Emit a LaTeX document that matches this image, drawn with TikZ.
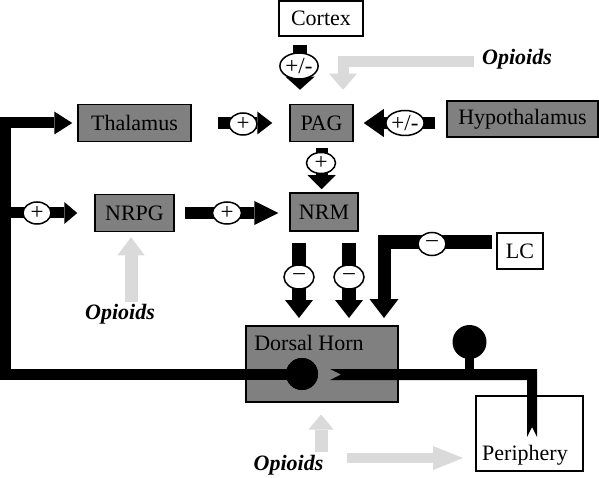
\documentclass[tikz,border=0pt]{standalone}
\usepackage{fontspec}
\setmainfont{Liberation Serif}
\usetikzlibrary{arrows.meta,shapes.geometric}
\definecolor{boxgray}{RGB}{128,128,128}
\definecolor{lightg}{RGB}{218,218,218}
\begin{document}
\begin{tikzpicture}[x=1pt,y=-1pt,
  box/.style={draw=black,line width=1.5pt,fill=boxgray,inner sep=0pt,font=\fontsize{22}{24}\selectfont},
  wbox/.style={box,fill=white},
  lbl/.style={inner sep=0pt,font=\fontsize{22}{24}\selectfont},
  opi/.style={inner sep=0pt,font=\fontsize{22}{24}\selectfont\bfseries\itshape},
  sign/.style={ellipse,draw=black,line width=1.5pt,fill=white,inner sep=0pt,minimum width=28pt,minimum height=22pt,font=\fontsize{23}{24}\selectfont},
  blk/.style={line width=12pt,draw=black,line join=miter,line cap=butt},
  blkarrow/.style 2 args={blk,-{Triangle[length=#1,width=#2,line width=0pt]}},
  gry/.style={line width=12pt,draw=lightg,line join=miter,line cap=butt},
  gryarrow/.style 2 args={gry,-{Triangle[length=#1,width=#2,line width=0pt]}},
]
\fill[white] (0,0) rectangle (599,478);
\useasboundingbox (0,0) rectangle (599,478);

% boxes
\node[wbox,minimum width=84pt,minimum height=35pt] (cortex) at (321,18.5) {Cortex};
\node[box,minimum width=63pt,minimum height=37pt] (pag) at (321.5,123) {PAG};
\node[box,minimum width=113pt,minimum height=37pt] (thalamus) at (134.5,123) {Thalamus};
\node[box,minimum width=151pt,minimum height=36pt] (hypothalamus) at (522.5,119) {Hypothalamus};
\node[box,minimum width=79pt,minimum height=37pt] (nrpg) at (134.5,213) {NRPG};
\node[box,minimum width=68pt,minimum height=38pt] (nrm) at (324,212) {NRM};
\node[wbox,minimum width=46pt,minimum height=36pt] (lc) at (520,251) {LC};
\node[box,minimum width=152pt,minimum height=76pt,anchor=north west] (dh) at (245,325) {};
\node[lbl,anchor=base] (dhtext) at (309,350) {Dorsal Horn};
\node[wbox,minimum width=107pt,minimum height=75pt,anchor=north west] (periphery) at (475,395) {};
\node[lbl,anchor=base] (pertext) at (525,460) {Periphery};

% opioid labels
\node[opi] (op1) at (517,59) {Opioids};
\node[opi] (op2) at (120,314) {Opioids};
\node[opi] (op3) at (288.5,465.5) {Opioids};

% coordinates
\coordinate (cxa) at (300,0);
\coordinate (corner) at (5.5,374);
\coordinate (br) at (5.5,213);
\coordinate (m1) at (299,0);
\coordinate (m2) at (349,0);
\coordinate (lcc) at (384,242);
\coordinate (g1) at (474,62);
\coordinate (g1c) at (343,62);
\coordinate (g2) at (131,302);
\coordinate (g3) at (321,452);
\coordinate (g4) at (347,458);

% black connectors
\draw[blkarrow={13pt}{29pt},line width=14pt,shorten <=8pt,shorten >=14pt] (cortex.south -| cxa) -- (pag.north -| cxa);
\draw[blkarrow={15pt}{23pt},shorten <=26pt,shorten >=17pt] (thalamus.east) -- (pag.west);
\draw[blkarrow={20pt}{28pt},shorten <=11pt,shorten >=10pt] (hypothalamus.west |- pag.east) -- (pag.east);
\draw[blkarrow={14pt}{28pt},shorten <=6pt,shorten >=3pt] (pag.south) -- (pag.south |- nrm.north);
\draw[blkarrow={24pt}{24pt},shorten <=10pt,shorten >=11pt] (nrpg.east) -- (nrpg.east -| nrm.west);
\draw[blkarrow={18pt}{28pt},line width=14pt,shorten <=11pt,shorten >=7pt] (m1 |- nrm.south) -- (m1 |- dh.north);
\draw[blkarrow={18pt}{28pt},line width=14pt,shorten <=11pt,shorten >=7pt] (m2 |- nrm.south) -- (m2 |- dh.north);
\draw[blkarrow={19pt}{29pt},line width=13pt,shorten <=4pt,shorten >=7pt] (lc.west |- lcc) -- (lcc) -- (lcc |- dh.north);

% neuron
\node[circle,fill=black,inner sep=0pt,minimum size=32pt] (soma) at (302,374) {};
\draw[blkarrow={18pt}{23pt},line width=11pt,shorten >=5pt] (soma.center) -- (corner) |- (thalamus.west);
\draw[blkarrow={13pt}{22pt},line width=11pt,shorten >=17pt] (br) -- (br -| nrpg.west);
\node[circle,fill=black,inner sep=0pt,minimum size=32pt] at (soma) {};
\fill[black] (330,369) -- (537,369) -- (537,437) -- (532,427) -- (527,437) -- (527,380) -- (330,380) -- (341,374.5) -- cycle;
\fill[black] (465,371) rectangle (474,345);
\node[circle,fill=black,inner sep=0pt,minimum size=34pt] (bouton) at (469.5,342) {};

% gray connectors
\draw[gryarrow={16pt}{28pt},line width=11pt,shorten >=14pt] (g1) -| (pag.north -| g1c);
\draw[gryarrow={18pt}{27pt},line width=13pt,shorten >=5pt] (g2) -- (g2 |- nrpg.south);
\draw[gryarrow={15pt}{25pt},line width=13pt,shorten >=12pt] (g3) -- (g3 |- dh.south);
\draw[gryarrow={30pt}{24pt},line width=10pt,shorten >=12pt] (g4) -- (g4 -| periphery.west);

% signs
\node[sign,minimum width=31pt,minimum height=26pt] (s1) at (299,66) {+/-};
\node[sign,minimum width=28pt,minimum height=22pt] (s2) at (243,124) {+};
\node[sign,minimum width=30pt,minimum height=25pt] (s3) at (405,123) {+/-};
\node[sign,minimum width=29pt,minimum height=21pt] (s4) at (321,163) {+};
\node[sign,minimum width=29pt,minimum height=22pt] (s5) at (227,213) {+};
\node[sign,minimum width=28pt,minimum height=22pt] (s6) at (37,213) {+};
\node[sign,minimum width=30pt,minimum height=24pt] (s7) at (299,277) {–};
\node[sign,minimum width=30pt,minimum height=24pt] (s8) at (349,277) {–};
\node[sign,minimum width=28pt,minimum height=23pt] (s9) at (432,244) {–};
\end{tikzpicture}
\end{document}
